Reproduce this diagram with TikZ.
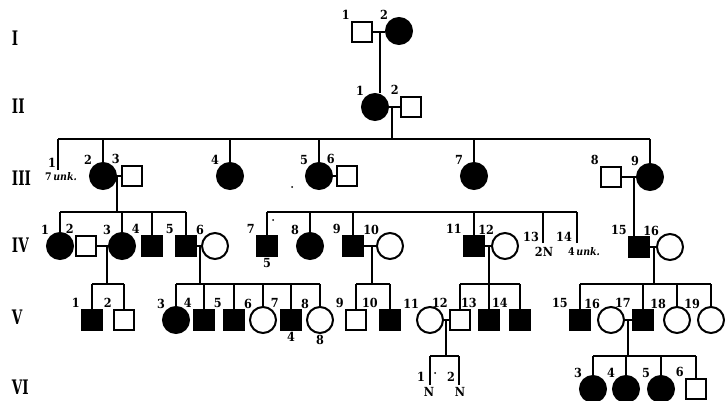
\documentclass[tikz,border=0pt]{standalone}
\usepackage{amsmath}
\usepackage{fontspec}
\setmainfont{DejaVu Serif Condensed}
\usepackage{tikz}
\tikzstyle{male} = [rectangle, draw, minimum width=20pt, minimum height=20pt, inner sep=0pt]
\tikzstyle{female} = [circle, draw, minimum size=26pt, inner sep=0pt]
\tikzstyle{aff} = [fill=black]
\tikzstyle{num} = [font=\fontsize{12.5}{12.5}\selectfont\bfseries, inner sep=0.2pt]
\tikzstyle{note} = [font=\fontsize{10.5}{10.5}\selectfont\bfseries, inner sep=0pt]
\tikzstyle{gen} = [font=\fontsize{20}{20}\selectfont\bfseries, anchor=west, inner sep=0pt]
\newcommand{\genname}[1]{\scalebox{0.75}[1]{#1}}

\begin{document}
\begin{tikzpicture}[x=1pt, y=-1pt, line width=2pt]
	\useasboundingbox (0,0) rectangle (725,401);

	% generation names
	\node[gen] (gI) at (11,38) {\genname{I}};
	\node[gen] (gII) at (11,106) {\genname{II}};
	\node[gen] (gIII) at (11,178) {\genname{III}};
	\node[gen] (gIV) at (11,245) {\genname{IV}};
	\node[gen] (gV) at (11,317) {\genname{V}};
	\node[gen] (gVI) at (11,387) {\genname{VI}};

	% generation I
	\node[male, label={[num]135:1}] (I1) at (362,32) {};
	\node[female, aff, label={[num]135:2}] (I2) at (399,31) {};
	\coordinate (mI) at (380,32);
	\draw (I1) -- (I1 -| I2.west);

	% generation II
	\node[female, aff, label={[num]135:1}] (II1) at (375,107) {};
	\node[male, label={[num]135:2}] (II2) at (411,107) {};
	\coordinate (mII) at (392,107);
	\draw (mI) -- (mI |- II1.north);
	\draw (II1) -- (II2);

	% generation III
	\coordinate (s3) at (0,139);
	\coordinate (III1) at (58,170);
	\node[num] (III1n) at (52,163) {1};
	\node[note] (III1u) at (61,177) {7\,\textit{unk.}};
	\node[female, aff, label={[num]135:2}] (III2) at (103,176) {};
	\node[male, label={[num]135:3}] (III3) at (132,176) {};
	\node[female, aff, label={[num]135:4}] (III4) at (230,176) {};
	\node[female, aff, label={[num]135:5}] (III5) at (319,176) {};
	\node[male, label={[num]135:6}] (III6) at (347,176) {};
	\node[female, aff, label={[num]135:7}] (III7) at (474,176) {};
	\node[male, label={[num]135:8}] (III8) at (611,177) {};
	\node[female, aff, label={[num]135:9}] (III9) at (650,177) {};
	\coordinate (mIII23) at (117,176);
	\coordinate (mIII89) at (634,177);
	\draw (mII) -- (mII |- s3);
	\draw (III1 |- s3) -- (III9.north |- s3);
	\draw (III1) -- (III1 |- s3);
	\draw (III2) -- (III2 |- s3);
	\draw (III4) -- (III4 |- s3);
	\draw (III5) -- (III5 |- s3);
	\draw (III7) -- (III7 |- s3);
	\draw (III9) -- (III9 |- s3);
	\draw (III2) -- (III3);
	\draw (III5) -- (III6);
	\draw (III8) -- (III9);
	\fill (292,187) circle (1);

	% generation IV
	\coordinate (s4) at (0,212);
	\node[female, aff, label={[num]135:1}] (IV1) at (60,246) {};
	\node[male, label={[num]135:2}] (IV2) at (86,246) {};
	\node[female, aff, label={[num]135:3}] (IV3) at (122,246) {};
	\node[male, aff, label={[num]135:4}] (IV4) at (152,246) {};
	\node[male, aff, label={[num]135:5}] (IV5) at (186,246) {};
	\node[female, label={[num]135:6}] (IV6) at (215,246) {};
	\node[male, aff, label={[num]135:7}, label={[num]-90:5}] (IV7) at (267,246) {};
	\node[female, aff, label={[num]135:8}] (IV8) at (310,246) {};
	\node[male, aff, label={[num]135:9}] (IV9) at (353,246) {};
	\node[female, label={[num]135:10}] (IV10) at (390,246) {};
	\node[male, aff, label={[num]135:11}] (IV11) at (474,246) {};
	\node[female, label={[num]135:12}] (IV12) at (505,246) {};
	\coordinate (IV13) at (543,243);
	\node[num] (IV13n) at (531,237) {13};
	\node[num] (IV13u) at (544,252) {2N};
	\coordinate (IV14) at (577,243);
	\node[num] (IV14n) at (564,237) {14};
	\node[note] (IV14u) at (584,252) {4\,\textit{unk.}};
	\node[male, aff, label={[num]135:15}] (IV15) at (639,247) {};
	\node[female, label={[num]135:16}] (IV16) at (670,247) {};
	\coordinate (mIV23) at (107,246);
	\coordinate (mIV56) at (200,246);
	\coordinate (mIV910) at (372,246);
	\coordinate (mIV1112) at (489,246);
	\coordinate (mIV1516) at (654,247);
	\draw (mIII23) -- (mIII23 |- s4);
	\draw (IV1.north |- s4) -- (IV5.north |- s4);
	\draw (IV1) -- (IV1 |- s4);
	\draw (IV3) -- (IV3 |- s4);
	\draw (IV4) -- (IV4 |- s4);
	\draw (IV5) -- (IV5 |- s4);
	\draw (IV7.north |- s4) -- (IV14 |- s4);
	\draw (IV7) -- (IV7 |- s4);
	\draw (IV8) -- (IV8 |- s4);
	\draw (IV9) -- (IV9 |- s4);
	\draw (IV11) -- (IV11 |- s4);
	\draw (IV13) -- (IV13 |- s4);
	\draw (IV14) -- (IV14 |- s4);
	\draw (mIII89) -- (mIII89 |- IV15.north);
	\draw (IV2) -- (IV3);
	\draw (IV5) -- (IV6);
	\draw (IV9) -- (IV10);
	\draw (IV11) -- (IV12);
	\draw (IV15) -- (IV16);
	\fill (273,220) circle (1);

	% generation V
	\coordinate (s5) at (0,284);
	\node[male, aff, label={[num]135:1}] (V1) at (92,320) {};
	\node[male, label={[num]135:2}] (V2) at (124,320) {};
	\node[female, aff, label={[num]135:3}] (V3) at (176,320) {};
	\node[male, aff, label={[num]135:4}] (V4) at (204,320) {};
	\node[male, aff, label={[num]135:5}] (V5) at (234,320) {};
	\node[female, label={[num]135:6}] (V6) at (263,320) {};
	\node[male, aff, label={[num]135:7}, label={[num]-90:4}] (V7) at (291,320) {};
	\node[female, label={[num]135:8}, label={[num]-90:8}] (V8) at (320,320) {};
	\node[male, label={[num]135:9}] (V9) at (356,320) {};
	\node[male, aff, label={[num]135:10}] (V10) at (390,320) {};
	\node[female, label={[num]135:11}] (V11) at (430,320) {};
	\node[male, label={[num]135:12}] (V12) at (460,320) {};
	\node[male, aff, label={[num]135:13}] (V13) at (489,320) {};
	\node[male, aff, label={[num]135:14}] (V14) at (520,320) {};
	\node[male, aff, label={[num]135:15}] (V15) at (580,320) {};
	\node[female, label={[num]135:16}] (V16) at (611,320) {};
	\node[male, aff, label={[num]135:17}] (V17) at (643,320) {};
	\node[female, label={[num]135:18}] (V18) at (677,320) {};
	\node[female, label={[num]135:19}] (V19) at (711,320) {};
	\coordinate (mV1112) at (446,320);
	\coordinate (mV1617) at (628,320);
	\draw (mIV23) -- (mIV23 |- s5);
	\draw (V1.north |- s5) -- (V2.north |- s5);
	\draw (V1) -- (V1 |- s5);
	\draw (V2) -- (V2 |- s5);
	\draw (mIV56) -- (mIV56 |- s5);
	\draw (V3.north |- s5) -- (V8.north |- s5);
	\draw (V3) -- (V3 |- s5);
	\draw (V4) -- (V4 |- s5);
	\draw (V5) -- (V5 |- s5);
	\draw (V6) -- (V6 |- s5);
	\draw (V7) -- (V7 |- s5);
	\draw (V8) -- (V8 |- s5);
	\draw (mIV910) -- (mIV910 |- s5);
	\draw (V9.north |- s5) -- (V10.north |- s5);
	\draw (V9) -- (V9 |- s5);
	\draw (V10) -- (V10 |- s5);
	\draw (mIV1112) -- (mIV1112 |- s5);
	\draw (V12.north |- s5) -- (V14.north |- s5);
	\draw (V12) -- (V12 |- s5);
	\draw (V13) -- (V13 |- s5);
	\draw (V14) -- (V14 |- s5);
	\draw (mIV1516) -- (mIV1516 |- s5);
	\draw (V15.north |- s5) -- (V19.north |- s5);
	\draw (V15) -- (V15 |- s5);
	\draw (V17) -- (V17 |- s5);
	\draw (V18) -- (V18 |- s5);
	\draw (V19) -- (V19 |- s5);
	\draw (V11) -- (V12);
	\draw (V16) -- (V17);

	% generation VI
	\coordinate (s6) at (0,356);
	\coordinate (VI1) at (430,385);
	\node[num] (VI1n) at (421,377) {1};
	\node[num] (VI1u) at (429,392) {N};
	\coordinate (VI2) at (459,385);
	\node[num] (VI2n) at (451,377) {2};
	\node[num] (VI2u) at (460,392) {N};
	\node[female, aff, label={[num]135:3}] (VI3) at (593,389) {};
	\node[female, aff, label={[num]135:4}] (VI4) at (626,389) {};
	\node[female, aff, label={[num]135:5}] (VI5) at (661,389) {};
	\node[male, label={[num]135:6}] (VI6) at (696,389) {};
	\draw (mV1112) -- (mV1112 |- s6);
	\draw (VI1 |- s6) -- (VI2 |- s6);
	\draw (VI1) -- (VI1 |- s6);
	\draw (VI2) -- (VI2 |- s6);
	\draw (mV1617) -- (mV1617 |- s6);
	\draw (VI3.north |- s6) -- (VI6.north |- s6);
	\draw (VI3) -- (VI3 |- s6);
	\draw (VI4) -- (VI4 |- s6);
	\draw (VI5) -- (VI5 |- s6);
	\draw (VI6) -- (VI6 |- s6);
	\fill (435,373) circle (1);
\end{tikzpicture}
\end{document}
